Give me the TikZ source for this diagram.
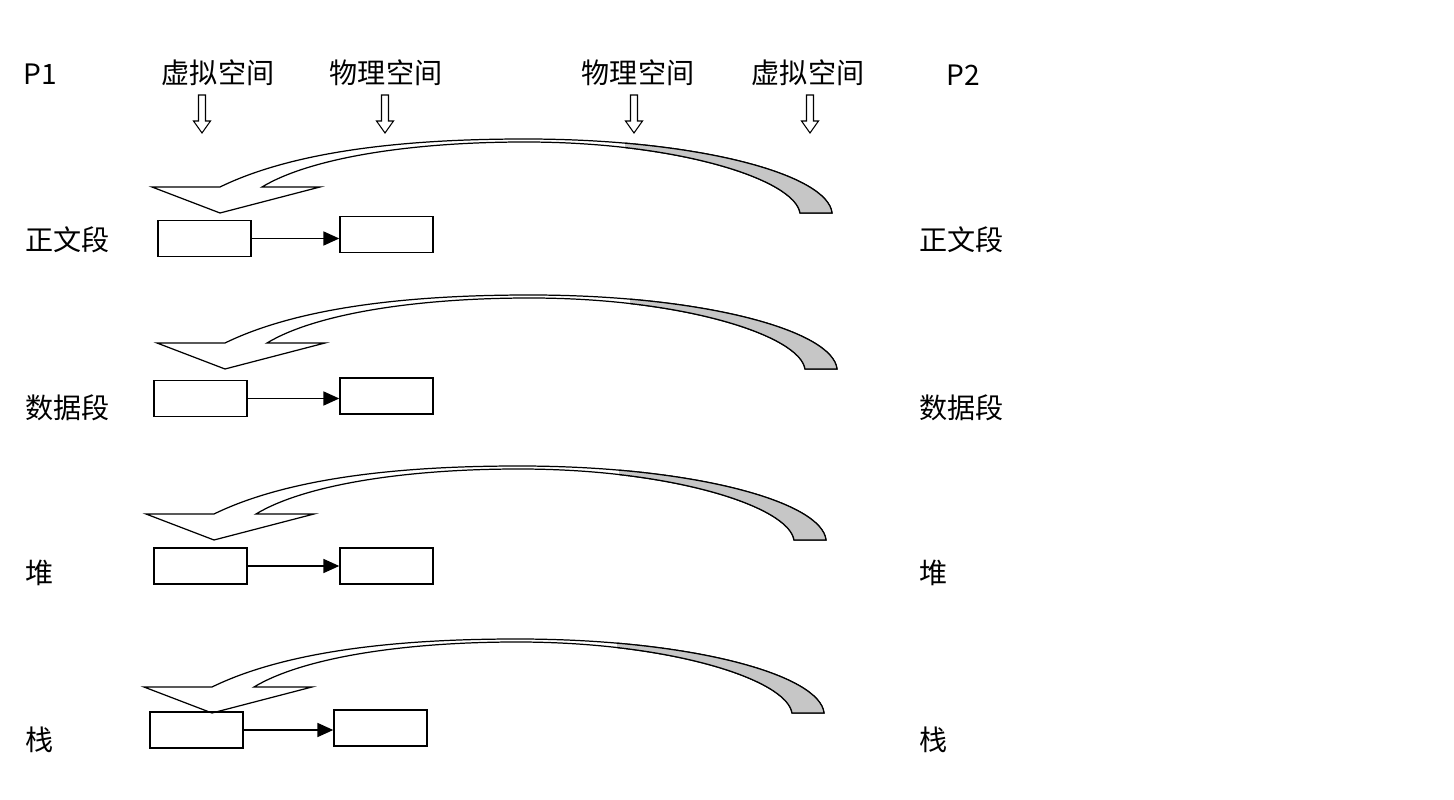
\documentclass[tikz,border=0pt]{standalone}
\usepackage{fontspec}
\setmainfont{Noto Sans CJK SC}
\usetikzlibrary{arrows.meta,positioning,calc}
\definecolor{ribbon}{HTML}{C6C6C6}

\tikzset{
  membox/.style={draw,line width=0.85pt,minimum width=1.86cm,minimum height=0.72cm,inner sep=0pt},
  seglabel/.style={anchor=west,inner sep=0pt},
  headlabel/.style={inner sep=0pt},
  downarrow/.pic={
    \draw[line width=0.6pt,fill=white] (-3.5,0) -- (3.5,0) -- (3.5,26) -- (8.5,26) -- (0,38) -- (-8.5,26) -- (-3.5,26) -- cycle;},
  bendarrow/.pic={
    \draw[line width=0.7pt,fill=white] (152,187) -- (220,213) -- (320,187) -- (262,187)
      .. controls (310,158) and (410,142) .. (525,142)
      .. controls (680,142) and (795,180) .. (800,213) -- (832,213)
      .. controls (828,175) and (700,139) .. (525,139)
      .. controls (420,139) and (300,148) .. (220,187) -- cycle;
    \begin{scope}
      \clip (625,120) rectangle (860,220);
      \fill[ribbon] (525,142) .. controls (680,142) and (795,180) .. (800,213) -- (832,213)
        .. controls (828,175) and (700,139) .. (525,139) -- cycle;
      \draw[line width=0.7pt] (525,142) .. controls (680,142) and (795,180) .. (800,213) -- (832,213)
        .. controls (828,175) and (700,139) .. (525,139);
    \end{scope}}
}

\begin{document}
\begin{tikzpicture}[x=0.02cm,y=-0.02cm,every node/.style={font=\fontsize{16}{19}\selectfont},>={Triangle[length=9pt,width=8pt]}]
  \useasboundingbox (0,0) rectangle (1454,800);
  % heads
  \node[headlabel] (p1) at (40,74) {P1};
  \node[headlabel] (va) at (218,73) {虚拟空间};
  \node[headlabel] (pa) at (386,73) {物理空间};
  \node[headlabel] (pb) at (638,73) {物理空间};
  \node[headlabel] (vb) at (808,73) {虚拟空间};
  \node[headlabel] (p2) at (963,75) {P2};
  \foreach \x in {202,385,634,810}
    \pic at (\x,95) {downarrow};
  % mapping arrows
  \foreach \dx/\dy in {0/0,5/156,-6/327,-8/500}
    \pic at (\dx,\dy) {bendarrow};
  % segments
  \foreach \i/\ax/\ay/\bx/\by/\ly/\lab in {1/204.5/238.5/386.5/234.5/240/正文段,2/200.5/398.5/386.5/396/408/数据段,3/200.5/566/386.5/566/573/堆,4/196.5/730/380.5/728/740/栈}{
    \node[seglabel] (l\i) at (25,\ly) {\lab};
    \node[seglabel] (r\i) at (919,\ly) {\lab};
    \node[membox] (v\i) at (\ax,\ay) {};
    \node[membox] (m\i) at (\bx,\by) {};
    \draw[->,line width=0.7pt] (v\i.east) -- (v\i.east -| m\i.west);}
\end{tikzpicture}
\end{document}
